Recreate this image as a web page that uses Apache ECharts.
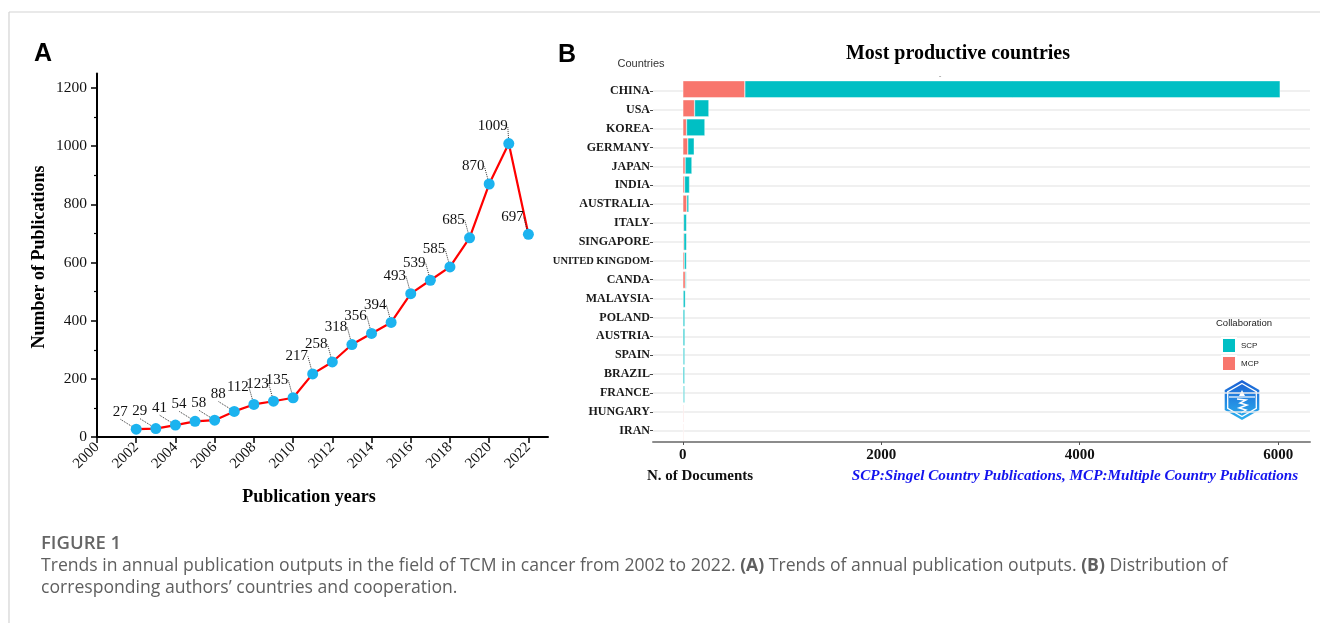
<!DOCTYPE html>
<html>
<head>
<meta charset="utf-8">
<script src="https://cdn.jsdelivr.net/npm/echarts@6/dist/echarts.min.js"></script>
<style>
html,body{margin:0;padding:0;background:#fff;}
#c{width:1320px;height:623px;}
</style>
</head>
<body>
<div id="c"></div>
<script>
// ---- Panel A data ----
const years = [2002,2003,2004,2005,2006,2007,2008,2009,2010,2011,2012,2013,2014,2015,2016,2017,2018,2019,2020,2021,2022];
const publications = [27,29,41,54,58,88,112,123,135,217,258,318,356,394,493,539,585,685,870,1009,697];
const yearTicks = [2000,2002,2004,2006,2008,2010,2012,2014,2016,2018,2020,2022];
const pubTicks = [0,200,400,600,800,1000,1200];
const pubMinorTicks = [100,300,500,700,900,1100];

// ---- Panel B data ----
const countries = ['CHINA','USA','KOREA','GERMANY','JAPAN','INDIA','AUSTRALIA','ITALY','SINGAPORE','UNITED KINGDOM','CANDA','MALAYSIA','POLAND','AUSTRIA','SPAIN','BRAZIL','FRANCE','HUNGARY','IRAN'];
const scp = [5395,144,185,64,68,50,20,29,27,22,10,22,18,18,16,16,14,3,3];
const mcp = [625,118,37,50,23,17,40,8,10,14,25,3,2,2,3,2,4,8,7];
const docTicks = [0,2000,4000,6000];

const serif = "'Liberation Serif','Times New Roman',serif";
const sans = "'Liberation Sans',Arial,sans-serif";
const plain = function(v){ return String(v); };

const chart = echarts.init(document.getElementById('c'), null, {renderer:'canvas'});

const option = {
  backgroundColor:'#fff',
  animation:false,
  grid:[
    {left:97, top:73.5, width:451, height:363.5},
    {left:653, top:79.7, width:657, height:362.3},
    {left:653, top:91, width:657, height:339.7}
  ],
  xAxis:[
    {gridIndex:0, type:'value', min:2000, max:2023,
      axisLine:{show:true, lineStyle:{color:'#000', width:2}},
      axisTick:{show:true, length:6, lineStyle:{color:'#000', width:1.5}, customValues:yearTicks},
      axisLabel:{customValues:yearTicks, formatter:plain, rotate:45, fontFamily:serif, fontSize:15, color:'#111', margin:8},
      splitLine:{show:false}
    },
    {gridIndex:1, type:'value', min:-301, max:6321,
      axisLine:{show:true, onZero:false, lineStyle:{color:'#8c8c8c', width:2}},
      axisTick:{show:true, length:3, lineStyle:{color:'#555'}, customValues:docTicks},
      axisLabel:{customValues:docTicks, formatter:plain, fontFamily:serif, fontWeight:'bold', fontSize:15, color:'#111', margin:6},
      splitLine:{show:false}
    },
    {gridIndex:2, type:'value', min:0, max:1, show:false}
  ],
  yAxis:[
    {gridIndex:0, type:'value', min:0, max:1250, position:'left',
      axisLine:{show:true, lineStyle:{color:'#000', width:2}},
      axisTick:{show:true, length:6, lineStyle:{color:'#000', width:1.5}, customValues:pubTicks},
      axisLabel:{customValues:pubTicks, formatter:plain, fontFamily:serif, fontSize:15.5, color:'#111', margin:10},
      splitLine:{show:false}
    },
    {gridIndex:0, type:'value', min:0, max:1250, position:'left', offset:0,
      axisLine:{show:false},
      axisTick:{show:true, length:3, lineStyle:{color:'#000', width:1.2}, customValues:pubMinorTicks},
      axisLabel:{show:false},
      splitLine:{show:false}
    },
    {gridIndex:1, type:'category', data:countries, inverse:true,
      axisLine:{show:false}, axisTick:{show:false}, axisLabel:{show:false}, splitLine:{show:false}
    },
    {gridIndex:2, type:'category', data:countries, inverse:true, boundaryGap:false,
      axisLine:{show:false},
      axisTick:{show:true, length:3, lineStyle:{color:'#444'}},
      axisLabel:{fontFamily:serif, fontWeight:'bold', fontSize:12, color:'#1a1a1a', margin:3,
        formatter:function(v){ return v==='UNITED KINGDOM' ? '{s|'+v+'}' : v; },
        rich:{s:{fontFamily:serif, fontWeight:'bold', fontSize:10.5, color:'#1a1a1a'}}
      },
      splitLine:{show:true, lineStyle:{color:'#ebebeb', width:1.5}}
    }
  ],
  legend:{
    data:['SCP','MCP'], orient:'vertical', left:1216, top:332, itemWidth:14, itemHeight:15, itemGap:1,
    icon:'rect', textStyle:{fontFamily:sans, fontSize:8, color:'#222'}, selectedMode:false
  },
  series:[
    {type:'line', xAxisIndex:0, yAxisIndex:0,
      data:years.map((y,i)=>[y,publications[i]]),
      lineStyle:{color:'#ff0000', width:2.2},
      symbol:'circle', symbolSize:11,
      itemStyle:{color:'#1cb3ef'},
      label:{show:true, position:'inside', fontFamily:serif, fontSize:15, color:'#111',
        formatter:function(p){return p.value[1];}},
      labelLayout:{dx:-16, dy:-17.5},
      labelLine:{show:true, lineStyle:{type:'dotted', color:'#333', width:1}},
      z:3
    },
    {name:'MCP', type:'bar', xAxisIndex:1, yAxisIndex:2, stack:'total', data:mcp,
      barCategoryGap:'11%', itemStyle:{color:'#F8766D', borderColor:'#fff', borderWidth:0.4}, z:3},
    {name:'SCP', type:'bar', xAxisIndex:1, yAxisIndex:2, stack:'total', data:scp,
      barCategoryGap:'11%', itemStyle:{color:'#00BFC4', borderColor:'#fff', borderWidth:0.4}, z:3}
  ],
  graphic:[
    {type:'line', shape:{x1:9,y1:12,x2:1320,y2:12}, style:{stroke:'#d3d3d3', lineWidth:1.2}, silent:true},
    {type:'line', shape:{x1:9,y1:12,x2:9,y2:623}, style:{stroke:'#d3d3d3', lineWidth:1.2}, silent:true},
    {type:'text', left:34, top:42, style:{text:'A', font:'bold 25px '+sans, fill:'#000'}},
    {type:'text', left:558, top:43, style:{text:'B', font:'bold 25px '+sans, fill:'#000'}},
    {type:'text', x:39, y:257, rotation:Math.PI/2, style:{text:'Number of Publications', font:'bold 18px '+serif, fill:'#000', align:'center', verticalAlign:'middle'}},
    {type:'text', x:309, y:497, style:{text:'Publication years', font:'bold 18px '+serif, fill:'#000', align:'center', verticalAlign:'middle'}},
    {type:'text', x:958, y:54, style:{text:'Most productive countries', font:'bold 20px '+serif, fill:'#000', align:'center', verticalAlign:'middle'}},
    {type:'text', x:641, y:64, style:{text:'Countries', font:'11px '+sans, fill:'#333', align:'center', verticalAlign:'middle'}},
    {type:'text', x:940, y:76, style:{text:'-', font:'8px '+sans, fill:'#888', align:'center', verticalAlign:'middle'}},
    {type:'text', x:700, y:476, style:{text:'N. of Documents', font:'bold 15px '+serif, fill:'#111', align:'center', verticalAlign:'middle'}},
    {type:'text', x:1075, y:476, style:{text:'SCP:Singel Country Publications, MCP:Multiple Country Publications', font:'italic bold 15.2px '+serif, fill:'#1414ee', align:'center', verticalAlign:'middle'}},
    {type:'text', x:1216, y:323, style:{text:'Collaboration', font:'9.5px '+sans, fill:'#222', align:'left', verticalAlign:'middle'}},
    {type:'group', x:1242, y:400, children:[
      {type:'polygon', shape:{points:[[0,-20],[17.3,-10],[17.3,10],[0,20],[-17.3,10],[-17.3,-10]]},
        style:{fill:new echarts.graphic.LinearGradient(0,0,0,1,[{offset:0,color:'#1a5fd4'},{offset:1,color:'#2cb0ee'}])}},
      {type:'polygon', shape:{points:[[0,-16.5],[14.3,-8.25],[14.3,8.25],[0,16.5],[-14.3,8.25],[-14.3,-8.25]]},
        style:{fill:'none', stroke:'#fff', lineWidth:1.3}},
      {type:'line', shape:{x1:-13,y1:-3,x2:13,y2:-3}, style:{stroke:'#fff', lineWidth:1.2}},
      {type:'polygon', shape:{points:[[0,-10],[3,-4],[-3,-4]]}, style:{fill:'#fff'}},
      {type:'polyline', shape:{points:[[-5,-1],[4,0],[-2,3],[5,5],[-3,8],[4,10],[-1,13]]}, style:{stroke:'#fff', fill:'none', lineWidth:1.4}}
    ]},
    {type:'text', left:41, top:534, style:{text:'FIGURE 1', font:'600 18.5px "Open Sans"', fill:'#666'}},
    {type:'text', left:41, top:557, style:{
      text:'Trends in annual publication outputs in the field of TCM in cancer from 2002 to 2022. {b|(A)} Trends of annual publication outputs. {b|(B)} Distribution of',
      font:'17.6px "Open Sans"', fill:'#5f5f5f',
      rich:{b:{fontFamily:'Open Sans', fontSize:17.6, fontWeight:'bold', fill:'#5f5f5f'}}}},
    {type:'text', left:41, top:579, style:{text:'corresponding authors\u2019 countries and cooperation.', font:'17.6px "Open Sans"', fill:'#5f5f5f'}}
  ]
};
chart.setOption(option);
</script>
</body>
</html>
